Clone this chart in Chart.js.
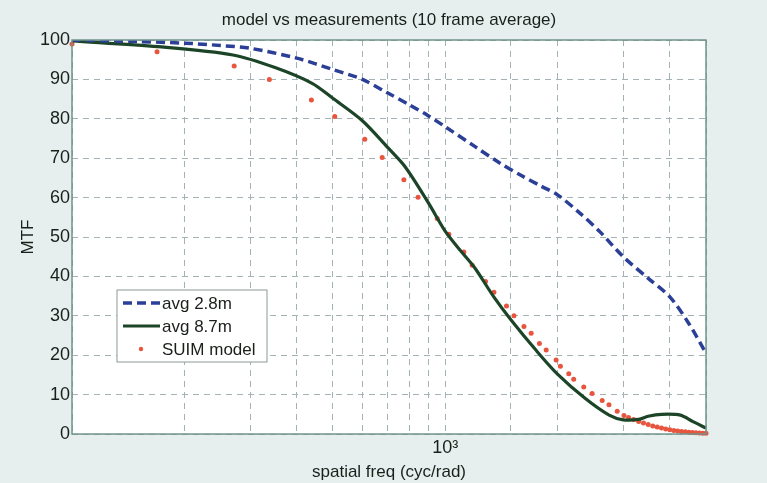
<!DOCTYPE html>
<html>
<head>
<meta charset="utf-8">
<script src="https://cdn.jsdelivr.net/npm/chart.js@4/dist/chart.umd.min.js"></script>
<style>
  html, body { margin: 0; padding: 0; background: #e6efee; }
  #wrap { width: 767px; height: 483px; }
</style>
</head>
<body>
<div id="wrap"><canvas id="mtfChart" width="767" height="483"></canvas></div>
<script>
// Data
var freqBlue = [100, 150, 200, 250, 300, 400, 500, 600, 700, 800, 900, 1000, 1200, 1400, 1600, 1800, 2000, 2300, 2600, 3000, 3500, 4000, 4500, 5000];
var mtfBlue = [100, 99.6, 99.2, 98.6, 97.9, 95.4, 92.5, 90, 86.6, 83.6, 80.8, 78, 73, 68.8, 65.6, 63, 60.7, 56, 51.3, 45, 39.5, 34.8, 28, 20.5];

var freqGreen = [100, 170, 270, 350, 440, 500, 600, 700, 780, 900, 1000, 1100, 1200, 1350, 1500, 1750, 2000, 2375, 2750, 3000, 3300, 3500, 3800, 4270, 4600, 5000];
var mtfGreen = [99.8, 98.3, 96.2, 93, 89, 85.2, 79.5, 72.8, 67.9, 58.8, 51.5, 46.5, 42.2, 34.8, 29, 21.3, 15.2, 9, 4.8, 3.6, 3.7, 4.5, 5.0, 4.8, 3.2, 1.5];

var freqModel = [100, 169, 272, 338, 438, 506, 609, 678, 775, 846, 952, 1023, 1122, 1181, 1283, 1351, 1460, 1529, 1626, 1700, 1789, 1865, 1983, 2036, 2144, 2210, 2352, 2476, 2635, 2748, 2891, 3014,
  3100, 3200, 3300, 3400, 3500, 3600, 3700, 3800, 3900, 4000, 4100, 4200, 4300, 4400, 4500, 4600, 4700, 4800, 4900, 5000];
var mtfModel = [99, 97, 93.4, 90, 84.8, 80.6, 74.8, 70.2, 64.5, 60.1, 54.7, 50.7, 46.2, 42.8, 38.7, 36, 32.5, 30, 27.3, 25.6, 23, 21.3, 18.8, 17.2, 15.3, 13.9, 11.9, 10.3, 8.5, 7.4, 5.8, 4.7,
  4.2, 3.7, 3.2, 2.8, 2.4, 2.05, 1.75, 1.5, 1.25, 1.05, 0.9, 0.78, 0.66, 0.55, 0.45, 0.38, 0.32, 0.27, 0.22, 0.18];

var yTicks = [0, 10, 20, 30, 40, 50, 60, 70, 80, 90, 100];
var chartTitle = 'model vs measurements (10 frame average)';

function pairs(xs, ys) {
    return xs.map(function (x, i) { return { x: x, y: ys[i] }; });
}

var fontFamily = "'Liberation Sans', Arial, sans-serif";
var textColor = '#1a1f1a';
var gridColor = '#a3b2b4';

// paper background, white plot area, frame, title and the inset legend
var paperPlugin = {
    id: 'paper',
    beforeDraw: function (chart) {
        var c = chart.ctx, a = chart.chartArea;
        c.save();
        c.fillStyle = '#e6efee';
        c.fillRect(0, 0, chart.width, chart.height);
        c.fillStyle = '#ffffff';
        c.fillRect(a.left, a.top, a.right - a.left, a.bottom - a.top);
        c.restore();
    },
    afterDraw: function (chart) {
        var c = chart.ctx, a = chart.chartArea;
        c.save();
        c.strokeStyle = '#6f948a';
        c.lineWidth = 1.5;
        c.strokeRect(a.left, a.top, a.right - a.left, a.bottom - a.top);

        // title centred over the plot area
        c.fillStyle = textColor;
        c.font = '17px ' + fontFamily;
        c.textAlign = 'center';
        c.textBaseline = 'middle';
        c.fillText(chartTitle, (a.left + a.right) / 2, 20);

        // legend box
        var bx = 117, by = 290, bw = 150, bh = 72;
        c.fillStyle = '#ffffff';
        c.fillRect(bx, by, bw, bh);
        c.strokeStyle = '#8a9a96';
        c.lineWidth = 1;
        c.strokeRect(bx, by, bw, bh);
        c.font = '17px ' + fontFamily;
        c.textAlign = 'left';
        var rows = [303, 326, 349];
        chart.data.datasets.forEach(function (ds, i) {
            var y = rows[i];
            if (ds.showLine === false) {
                c.fillStyle = ds.pointBackgroundColor;
                c.beginPath();
                c.arc(141, y, 2.2, 0, Math.PI * 2);
                c.fill();
            } else {
                c.strokeStyle = ds.borderColor;
                c.lineWidth = ds.borderWidth;
                c.setLineDash(ds.borderDash || []);
                c.beginPath();
                c.moveTo(123, y);
                c.lineTo(160, y);
                c.stroke();
                c.setLineDash([]);
            }
            c.fillStyle = textColor;
            c.fillText(ds.label, 162, y + 1);
        });
        c.restore();
    }
};

var ctx = document.getElementById('mtfChart').getContext('2d');
var chart = new Chart(ctx, {
    type: 'line',
    data: {
        datasets: [{
            label: 'avg 2.8m',
            data: pairs(freqBlue, mtfBlue),
            borderColor: '#2b3f97',
            borderWidth: 3.5,
            borderDash: [9, 5],
            pointRadius: 0,
            tension: 0.3
        }, {
            label: 'avg 8.7m',
            data: pairs(freqGreen, mtfGreen),
            borderColor: '#1c4528',
            borderWidth: 3.2,
            pointRadius: 0,
            tension: 0.3
        }, {
            label: 'SUIM model',
            data: pairs(freqModel, mtfModel),
            showLine: false,
            clip: 4,
            pointRadius: 2.5,
            pointBorderWidth: 0,
            pointBackgroundColor: '#e8553e',
            pointBorderColor: '#e8553e'
        }]
    },
    options: {
        responsive: false,
        animation: false,
        devicePixelRatio: 1,
        layout: { padding: { left: 0, right: 61, top: 40, bottom: 0 } },
        plugins: {
            legend: { display: false },
            tooltip: { enabled: false },
            title: { display: false }
        },
        scales: {
            x: {
                type: 'logarithmic',
                min: 100,
                max: 5000,
                grid: { color: gridColor, drawTicks: false },
                border: { display: false, dash: [6, 5] },
                ticks: {
                    autoSkip: false,
                    maxRotation: 0,
                    padding: 3,
                    color: textColor,
                    font: { family: fontFamily, size: 18 },
                    callback: function (v) { return v === 1000 ? '10\u00b3' : ''; }
                },
                title: {
                    display: true,
                    text: 'spatial freq (cyc/rad)',
                    color: textColor,
                    font: { family: fontFamily, size: 17 },
                    padding: { top: 0, bottom: 0 }
                },
                afterFit: function (s) { s.height = 49; }
            },
            y: {
                min: 0,
                max: 100,
                afterBuildTicks: function (s) { s.ticks = yTicks.map(function (v) { return { value: v }; }); },
                grid: { color: gridColor, drawTicks: false },
                border: { display: false, dash: [6, 5] },
                ticks: {
                    padding: 2,
                    color: textColor,
                    font: { family: fontFamily, size: 18 }
                },
                title: {
                    display: true,
                    text: 'MTF',
                    color: textColor,
                    font: { family: fontFamily, size: 17 },
                    padding: { top: 18, bottom: 0 }
                },
                afterFit: function (s) { s.width = 72; }
            }
        }
    },
    plugins: [paperPlugin]
});
</script>
</body>
</html>
